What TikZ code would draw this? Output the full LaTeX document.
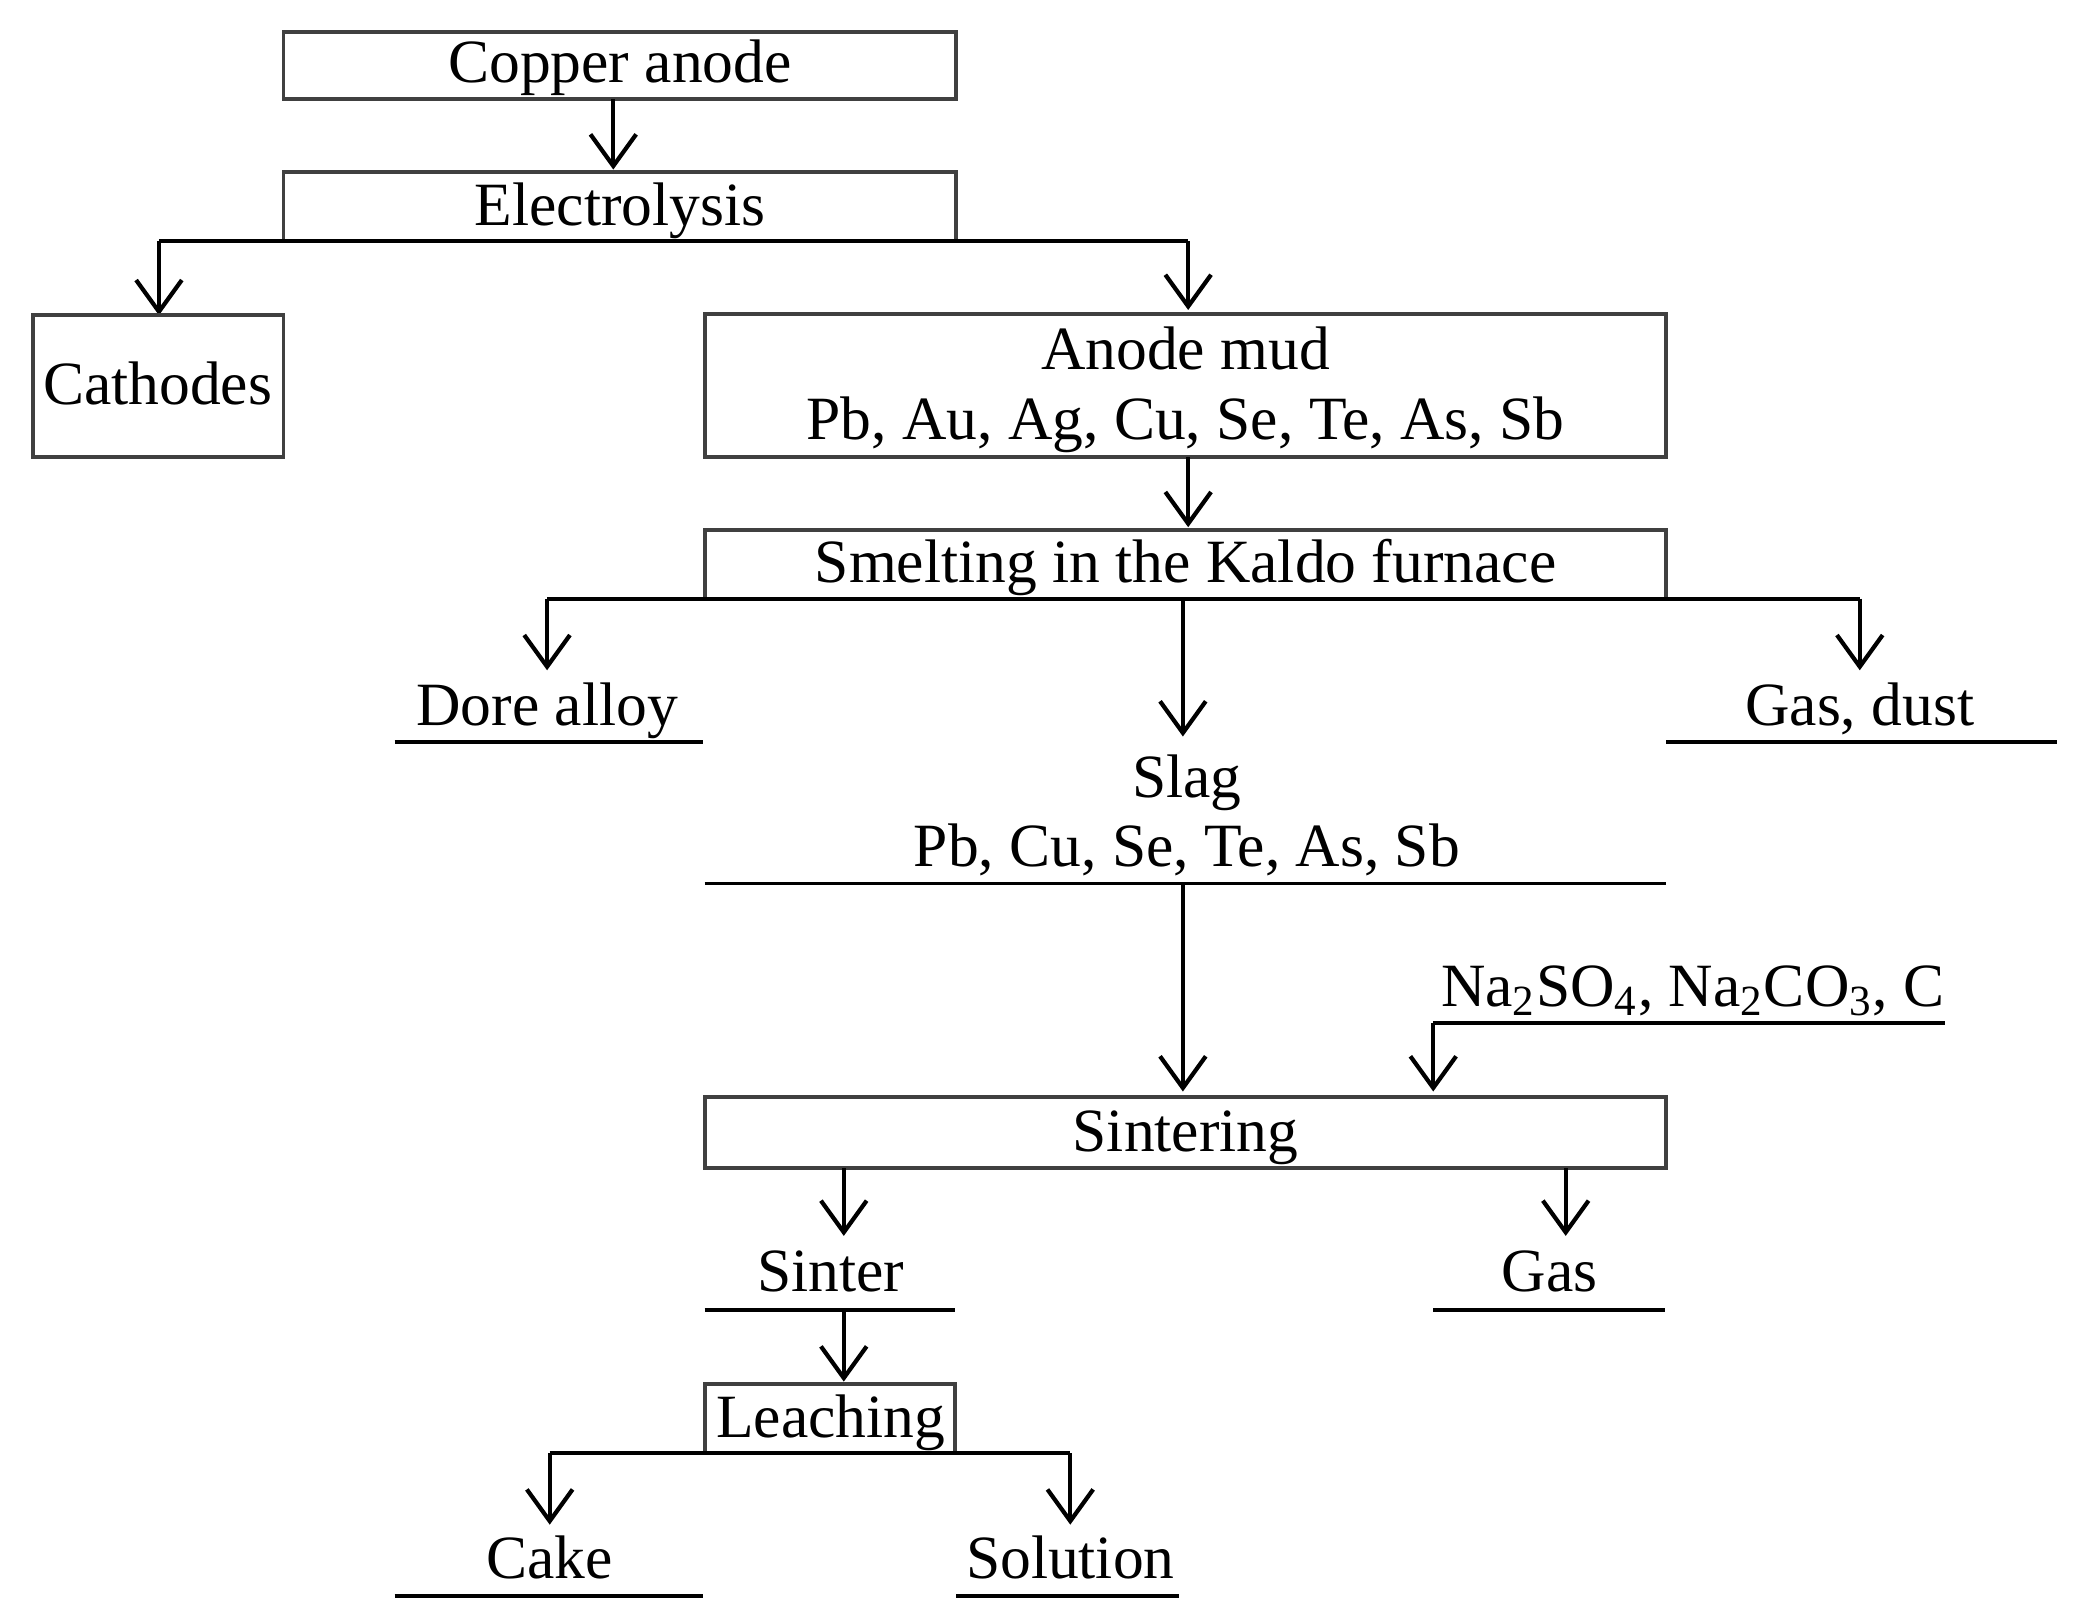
\documentclass[tikz,border=0pt]{standalone}
\usepackage{fontspec}
\setmainfont{Liberation Serif}
\usetikzlibrary{arrows.meta}
\begin{document}
\begin{tikzpicture}[x=0.013246cm,y=-0.013246cm,
  box/.style={draw=black!75,line width=1.1pt},
  ln/.style={draw=black,line width=1.1pt},
  ar/.style={ln,-{Straight Barb[length=9pt,width=13pt,line width=1.2pt]}},
  lbl/.style={font=\fontsize{17.5}{21}\selectfont,inner sep=0pt,anchor=base}]
\useasboundingbox (0,0) rectangle (1568,1222);
\draw[box] (214,24) rectangle (722,75);
\node[lbl] (t1) at (468,62) {Copper anode};
\draw[box] (214,130) rectangle (722,182);
\node[lbl] (t2) at (468,170) {Electrolysis};
\coordinate (a1) at (463,75); \coordinate (a2) at (463,128);
\draw[ar] (a1) -- (a2);
\coordinate (h1) at (120,182); \coordinate (h2) at (897,182);
\draw[ln] (h1) -- (h2);
\coordinate (c1) at (120,238); \coordinate (c2) at (897,234);
\draw[ar] (h1) -- (c1); \draw[ar] (h2) -- (c2);
\draw[box] (25,238) rectangle (214,345);
\node[lbl] (cath) at (119,305) {Cathodes};
\draw[box] (532,237) rectangle (1258,345);
\node[lbl] (am1) at (895,279) {Anode mud};
\node[lbl] (am2) at (895,332) {Pb, Au, Ag, Cu, Se, Te, As, Sb};
\coordinate (m1) at (897,345); \coordinate (m2) at (897,398);
\draw[ar] (m1) -- (m2);
\draw[box] (532,400) rectangle (1258,452);
\node[lbl] (sm) at (895,440) {Smelting in the Kaldo furnace};
\coordinate (s1) at (413,452); \coordinate (s2) at (1404,452); \coordinate (s3) at (893,452);
\draw[ln] (s1) -- (s2);
\coordinate (d1) at (413,506); \coordinate (d2) at (1404,506); \coordinate (d3) at (893,556);
\draw[ar] (s1) -- (d1); \draw[ar] (s2) -- (d2); \draw[ar] (s3) -- (d3);
\node[lbl] (dore) at (413,548) {Dore alloy};
\draw[ln] (298,560) -- (531,560);
\node[lbl] (gd) at (1404,548) {Gas, dust};
\draw[ln] (1258,560) -- (1553,560);
\node[lbl] (sl1) at (896,602) {Slag};
\node[lbl] (sl2) at (896,654) {Pb, Cu, Se, Te, As, Sb};
\draw[ln] (532,667) -- (1258,667);
\coordinate (g1) at (893,667); \coordinate (g2) at (893,824);
\draw[ar] (g1) -- (g2);
\node[lbl] (na) at (1278,760) {Na\textsubscript{2}SO\textsubscript{4}, Na\textsubscript{2}CO\textsubscript{3}, C};
\draw[ln] (1082,772) -- (1468,772);
\coordinate (n1) at (1082,772); \coordinate (n2) at (1082,824);
\draw[ar] (n1) -- (n2);
\draw[box] (532,828) rectangle (1258,882);
\node[lbl] (sin) at (895,869) {Sintering};
\coordinate (p1) at (637,882); \coordinate (p2) at (637,933);
\coordinate (q1) at (1182,882); \coordinate (q2) at (1182,933);
\draw[ar] (p1) -- (p2); \draw[ar] (q1) -- (q2);
\node[lbl] (sr) at (627,975) {Sinter};
\draw[ln] (532,989) -- (721,989);
\node[lbl] (gas) at (1170,975) {Gas};
\draw[ln] (1082,989) -- (1257,989);
\coordinate (r1) at (637,989); \coordinate (r2) at (637,1043);
\draw[ar] (r1) -- (r2);
\draw[box] (532,1045) rectangle (721,1097);
\node[lbl] (lea) at (627,1085) {Leaching};
\coordinate (l1) at (415,1097); \coordinate (l2) at (808,1097);
\draw[ln] (l1) -- (l2);
\coordinate (k1) at (415,1151); \coordinate (k2) at (808,1151);
\draw[ar] (l1) -- (k1); \draw[ar] (l2) -- (k2);
\node[lbl] (cake) at (415,1192) {Cake};
\draw[ln] (298,1205) -- (531,1205);
\node[lbl] (sol) at (808,1192) {Solution};
\draw[ln] (722,1205) -- (890,1205);
\end{tikzpicture}
\end{document}
